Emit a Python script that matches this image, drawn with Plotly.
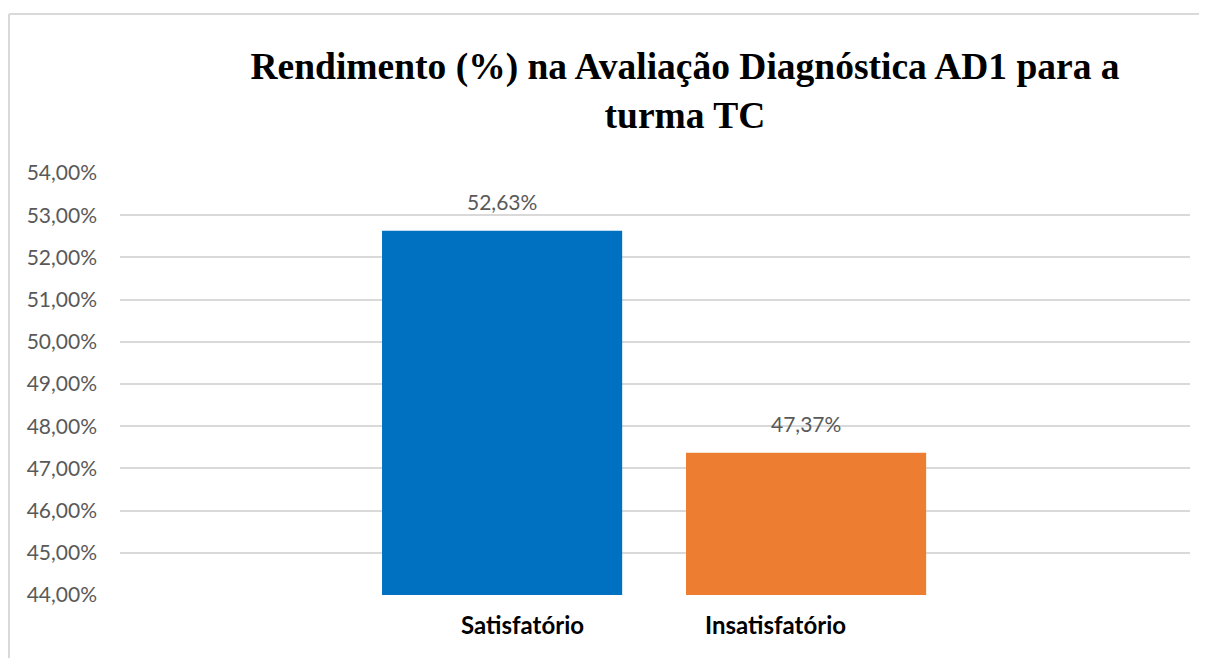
import plotly.graph_objects as go

categories = ["Satisfatório", "Insatisfatório"]
values = [0.5263, 0.4737]
colors = ["#0070C0", "#ED7D31"]
label_texts = ["52,63%", "47,37%"]
tick_vals = [0.44, 0.45, 0.46, 0.47, 0.48, 0.49, 0.50, 0.51, 0.52, 0.53, 0.54]
title_text = "Rendimento (%) na Avaliação Diagnóstica AD1 para a<br>turma TC"

# page body has an 8px margin; size the figure so it fits the window without scrollbars
W, H = 1191, 650
L, R, T, B = 112, 9, 165, 63
pw, ph = W - L - R, H - T - B

fig = go.Figure()
fig.add_trace(go.Bar(
    x=categories, y=values, marker=dict(color=colors, line=dict(width=0)),
    width=0.79, hoverinfo="skip", showlegend=False,
))

annotations = []
for c, v, t in zip(categories, values, label_texts):
    annotations.append(dict(x=c, y=v, xref="x", yref="y", text=t, showarrow=False,
                            yanchor="bottom", yshift=15,
                            font=dict(family="Lato", size=21, color="#595959")))
cat_shift = [20, -31]
for c, s in zip(categories, cat_shift):
    annotations.append(dict(x=c, y=0, xref="x", yref="paper", text="<b>" + c + "</b>",
                            showarrow=False, yanchor="top", yshift=-13, xshift=s,
                            font=dict(family="Lato", size=24, color="#000000")))

bx0 = (1 - L) / pw
by1 = (H - B - 6) / ph
fig.update_layout(
    width=W, height=H,
    margin=dict(l=L, r=R, t=T, b=B),
    paper_bgcolor="white", plot_bgcolor="white",
    separators=",.",
    title=dict(text="<b>" + title_text + "</b>", x=677 / W, xref="container", xanchor="center",
               y=1 - 71 / H, yref="container", yanchor="top",
               font=dict(family="Liberation Serif", size=37.5, color="#000000")),
    xaxis=dict(range=[-1.257, 2.263], showticklabels=False, showgrid=False, zeroline=False,
               showline=False, fixedrange=True),
    yaxis=dict(range=[0.44, 0.54], tickvals=tick_vals, tickformat=".2%", showgrid=True,
               gridcolor="#D9D9D9", gridwidth=1.5, zeroline=False, showline=False,
               ticks="", ticklabelstandoff=22,
               tickfont=dict(family="Lato", size=21, color="#595959")),
    annotations=annotations,
    shapes=[
        dict(type="line", xref="paper", yref="paper", x0=bx0, x1=(W - L) / pw, y0=by1, y1=by1,
             line=dict(color="#D9D9D9", width=2), layer="below"),
        dict(type="line", xref="paper", yref="paper", x0=bx0, x1=bx0, y0=-B / ph, y1=by1,
             line=dict(color="#D9D9D9", width=2), layer="below"),
    ],
)

fig.write_html("out.html")
